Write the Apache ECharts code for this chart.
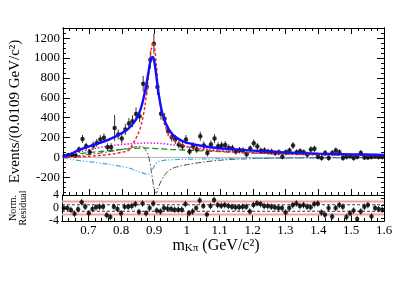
<!DOCTYPE html>
<html><head><meta charset="utf-8">
<script src="https://cdn.jsdelivr.net/npm/echarts@6/dist/echarts.min.js"></script>
<style>html,body{margin:0;padding:0;background:#fff}#c{width:399px;height:282px}</style>
</head><body><div id="c"></div>
<script>
// ---- data ----
const X_MIN = 0.62, X_MAX = 1.6, N_BINS = 90;
const DATA_Y = [15,25,28,18,80,186,113,55,120,146,
  180,197,103,103,297,230,190,280,341,365,
  438,415,741,708,983,1144,708,440,390,264,
  204,180,129,113,180,60,113,80,213,120,
  45,130,190,113,119,126,95,93,60,73,
  70,32,89,143,109,66,70,58,58,45,
  51,8,51,70,120,51,62,51,30,80,
  87,8,-5,45,-5,45,70,51,-5,8,
  15,-5,8,45,0,0,5,10,5,5];
const DATA_ERR = [15,20,22,20,30,40,35,30,40,40,
  45,45,40,40,130,50,50,55,55,60,
  65,60,80,80,90,100,80,60,55,50,
  45,45,40,40,45,35,40,35,45,40,
  35,40,45,40,38,38,35,35,32,32,
  32,30,32,38,35,32,32,30,30,30,
  30,28,30,30,35,30,30,30,28,32,
  32,28,28,30,28,30,32,30,28,28,
  28,28,28,30,25,25,25,25,25,25];
const RESID = [0,0,-0.6,-1.8,-0.4,1.8,0.4,-1.6,-0.3,0.2,
  0.4,0.4,-2.2,-2.8,0.4,-0.3,-1.6,0.4,0.4,0.6,
  1.2,-1.2,1.4,-1.6,0,1.4,-0.8,-1.1,0,-0.2,
  -0.3,-0.5,-0.5,-0.5,1.2,-1.6,-1.1,0,2.3,0.6,
  -2.0,0.6,2.5,0.9,0.7,0.9,0.6,0.4,0.2,0.2,
  0.4,0.4,-1.1,0.9,1.5,1.2,0.6,0.6,0.4,0.2,
  0,0,-1.4,0,0.9,1.4,0.6,0.9,0.4,0.2,
  1.2,1.4,-1.4,-2.1,0,-2.6,0,0.9,0.4,-2.8,
  -1.6,-0.8,-3.4,-1.1,0.4,0.9,-2.6,0,-0.3,-0.5];

const CURVE_X = [0.62,0.64,0.66,0.68,0.70,0.72,0.74,0.76,0.78,0.80,0.82,0.84,0.85,0.86,0.87,0.88,0.885,0.89,0.895,0.90,0.905,0.91,0.92,0.93,0.94,0.95,0.96,0.98,1.00,1.05,1.10,1.15,1.20,1.30,1.40,1.50,1.60];
const FIT_TOTAL = [5,30,60,88,112,133,155,180,210,245,290,365,425,515,655,835,935,1000,1010,945,825,690,495,375,300,250,215,172,146,112,92,80,68,50,38,31,26];
const FIT_KSTAR = [0,2,5,8,12,16,22,29,38,52,70,175,240,340,510,780,950,1090,1160,1100,935,735,475,335,255,205,172,132,106,76,62,52,45,35,28,22,18];
const FIT_MAGENTA = [0,20,42,62,78,92,104,114,123,130,136,140,142,143,144,145,145,145,145,144,143,142,140,137,133,129,125,116,107,87,70,58,48,35,27,22,18];
const FIT_GREEN = [0,15,30,41,50,56,62,68,74,80,86,92,94,95,95,94,93,92,91,90,89,88,86,84,82,80,79,76,73,66,58,51,45,36,30,25,22];
const FIT_INTERF1 = [0,-15,-28,-36,-43,-51,-60,-70,-80,-92,-105,-128,-140,-153,-163,-168,-162,-142,-112,-78,-55,-42,-32,-28,-25,-23,-22,-20,-18,-15,-13,-11,-10,-8,-6,-5,-4];
const FIT_INTERF2 = [0,8,15,22,30,38,47,57,68,80,93,106,112,112,88,25,-40,-140,-250,-340,-360,-310,-235,-180,-142,-118,-102,-85,-72,-46,-28,-18,-12,-6,-3,-1,0];

const X_TICKS = [0.7,0.8,0.9,1.0,1.1,1.2,1.3,1.4,1.5,1.6];
const Y_TICKS = [-200,0,200,400,600,800,1000,1200];
const RES_TICKS = [-4,0,4];
const RES_BANDS = [2,-2];
const RES_DASH = [1,-1];
const Y_MIN = -378, Y_MAX = 1302;

// ---- build ----
const FONT = '"Liberation Serif","DejaVu Serif",serif';
const binW = (X_MAX - X_MIN) / N_BINS;
const centers = DATA_Y.map((_, i) => X_MIN + (i + 0.5) * binW);
const pts = DATA_Y.map((y, i) => [centers[i], y, DATA_ERR[i]]);
const rpts = RESID.map((r, i) => [centers[i], r, 1]);
const xMinor = []; for (let k = 0; k <= 49; k++) xMinor.push(+(X_MIN + k * 0.02).toFixed(3));
const yMinor = []; for (let v = -350; v <= 1300; v += 50) yMinor.push(v);
const rMinor = [-4,-3,-2,-1,0,1,2,3,4];
const curve = ys => CURVE_X.map((x, i) => [x, ys[i]]);
const plain = v => String(v);

function xAx(grid, pos, ticks, len, extra) {
  return Object.assign({gridIndex: grid, type: 'value', min: X_MIN, max: X_MAX, position: pos,
    axisLine: {show: true, onZero: false, lineStyle: {color: '#000', width: 1}},
    axisTick: {show: true, inside: true, length: len, customValues: ticks, lineStyle: {color: '#000', width: 1}},
    axisLabel: {show: false}, splitLine: {show: false}}, extra || {});
}
function yAx(grid, pos, mn, mx, ticks, len, extra) {
  return Object.assign({gridIndex: grid, type: 'value', min: mn, max: mx, position: pos,
    axisLine: {show: true, onZero: false, lineStyle: {color: '#000', width: 1}},
    axisTick: {show: true, inside: true, length: len, customValues: ticks, lineStyle: {color: '#000', width: 1}},
    axisLabel: {show: false}, splitLine: {show: false}}, extra || {});
}

const xAxis = [
  xAx(0, 'bottom', X_TICKS, 6),
  xAx(0, 'bottom', xMinor, 3),
  xAx(0, 'top', X_TICKS, 6),
  xAx(0, 'top', xMinor, 3),
  xAx(1, 'bottom', X_TICKS, 6, {
    axisLabel: {show: true, customValues: X_TICKS, formatter: plain, fontFamily: FONT, fontSize: 13, color: '#000', margin: 3},
    name: '{a|m}{s|Kπ}{a| (GeV/c²)}', nameLocation: 'middle', nameGap: 15,
    nameTextStyle: {color: '#000', fontFamily: FONT, fontSize: 16, padding: [0, 14, 0, 0],
      rich: {a: {fontFamily: FONT, fontSize: 16, color: '#000', padding: [0,0,4,0]},
             s: {fontFamily: FONT, fontSize: 11, color: '#000'}}}
  }),
  xAx(1, 'bottom', xMinor, 3)
];
const yAxis = [
  yAx(0, 'left', Y_MIN, Y_MAX, Y_TICKS, 7, {
    axisLabel: {show: true, customValues: Y_TICKS, formatter: plain, fontFamily: FONT, fontSize: 13, color: '#000', margin: 3},
    name: 'Events/(0.0109 GeV/c²)', nameLocation: 'middle', nameGap: 37,
    nameTextStyle: {color: '#000', fontFamily: FONT, fontSize: 15}
  }),
  yAx(0, 'left', Y_MIN, Y_MAX, yMinor, 3),
  yAx(0, 'right', Y_MIN, Y_MAX, Y_TICKS, 7),
  yAx(0, 'right', Y_MIN, Y_MAX, yMinor, 3),
  yAx(1, 'left', -4, 4, RES_TICKS, 5, {
    axisLabel: {show: true, customValues: RES_TICKS, formatter: plain, fontFamily: FONT, fontSize: 12, color: '#000', margin: 3},
    name: 'Norm.\nResidual', nameLocation: 'middle', nameGap: 34,
    nameTextStyle: {color: '#000', fontFamily: FONT, fontSize: 10, lineHeight: 10}
  }),
  yAx(1, 'right', -4, 4, rMinor, 3)
];

function errBar(params, api) {
  const x = api.value(0), y = api.value(1), e = api.value(2);
  const a = api.coord([x, y - e]), b = api.coord([x, y + e]);
  return {type: 'line', shape: {x1: a[0], y1: a[1], x2: b[0], y2: b[1]}, style: {stroke: '#333', lineWidth: 1}};
}
function lineS(data, color, width, type, z, xi, yi) {
  return {type: 'line', data, xAxisIndex: xi || 0, yAxisIndex: yi || 0, symbol: 'none', smooth: 0.3,
    lineStyle: {color, width, type}, z, silent: true, animation: false, clip: true};
}

const series = [
  lineS([[X_MIN, 0], [X_MAX, 0]], '#b4b4b4', 1, 'solid', 1),
  lineS(curve(FIT_INTERF2), '#4d4d4d', 1, [6,2,1.5,2], 2),
  lineS(curve(FIT_INTERF1), '#3fa7dc', 1.2, [5,2,1.2,2,1.2,2], 2),
  lineS(curve(FIT_GREEN), '#119911', 1.3, [6,3], 2),
  lineS(curve(FIT_MAGENTA), '#e020e0', 1.6, [1.5,1.8], 2),
  {type: 'custom', xAxisIndex: 0, yAxisIndex: 0, data: pts, renderItem: errBar, z: 3, animation: false, clip: true},
  {type: 'scatter', xAxisIndex: 0, yAxisIndex: 0, data: pts.map(p => [p[0], p[1]]), symbol: 'circle', symbolSize: 4.5,
    itemStyle: {color: '#000'}, z: 4, animation: false},
  lineS(curve(FIT_KSTAR), '#ff1a1a', 1.4, [3,2], 5),
  lineS(curve(FIT_TOTAL), '#1010ff', 2.4, 'solid', 6),
  // residual panel
  ...RES_BANDS.map(v => lineS([[X_MIN, v], [X_MAX, v]], '#f4a0a0', 2, 'solid', 1, 4, 4)),
  ...RES_DASH.map(v => lineS([[X_MIN, v], [X_MAX, v]], '#000', 0.8, [3,2], 1, 4, 4)),
  {type: 'custom', xAxisIndex: 4, yAxisIndex: 4, data: rpts, renderItem: errBar, z: 3, animation: false, clip: true},
  {type: 'scatter', xAxisIndex: 4, yAxisIndex: 4, data: rpts.map(p => [p[0], p[1]]), symbol: 'circle', symbolSize: 4.5,
    itemStyle: {color: '#000'}, z: 4, animation: false}
];

const chart = echarts.init(document.getElementById('c'), null, {renderer: 'canvas'});
chart.setOption({
  backgroundColor: '#fff',
  animation: false,
  grid: [
    {left: 60, top: 28, width: 324, height: 167},
    {left: 60, top: 195, width: 324, height: 26}
  ],
  xAxis, yAxis, series
});
</script></body></html>
